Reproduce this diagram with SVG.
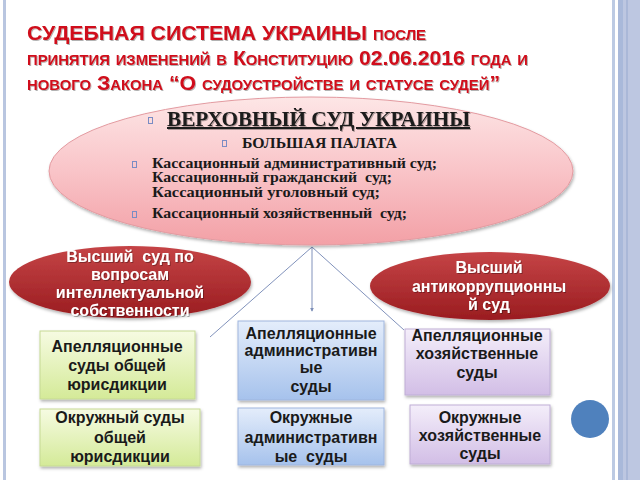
<svg xmlns="http://www.w3.org/2000/svg" width="640" height="480" viewBox="0 0 640 480">
<defs>
<linearGradient id="gPink" x1="0" y1="0" x2="0" y2="1">
<stop offset="0" stop-color="#fde6e6"/><stop offset="0.5" stop-color="#f9c4c8"/><stop offset="1" stop-color="#f3a0a6"/>
</linearGradient>
<linearGradient id="gRed" x1="0" y1="0" x2="0" y2="1">
<stop offset="0" stop-color="#c54446"/><stop offset="1" stop-color="#9a1c20"/>
</linearGradient>
<linearGradient id="gGreen" x1="0" y1="0" x2="0" y2="1">
<stop offset="0" stop-color="#f6fbe2"/><stop offset="1" stop-color="#d4ea98"/>
</linearGradient>
<linearGradient id="gBlue" x1="0" y1="0" x2="0" y2="1">
<stop offset="0" stop-color="#e4edfb"/><stop offset="1" stop-color="#a6c2ec"/>
</linearGradient>
<linearGradient id="gPurple" x1="0" y1="0" x2="0" y2="1">
<stop offset="0" stop-color="#f4eefa"/><stop offset="1" stop-color="#d2bee6"/>
</linearGradient>
<filter id="sh" x="-10%" y="-10%" width="120%" height="130%">
<feDropShadow dx="1" dy="2" stdDeviation="1.5" flood-color="#000" flood-opacity="0.3"/>
</filter>
<filter id="ts" x="-5%" y="-20%" width="110%" height="150%">
<feDropShadow dx="1" dy="1" stdDeviation="0.6" flood-color="#000" flood-opacity="0.3"/>
</filter>
<marker id="arr" viewBox="0 0 6 6" refX="5" refY="3" markerWidth="4" markerHeight="4" orient="auto">
<path d="M0,0 L6,3 L0,6 z" fill="#7d8fb8"/>
</marker>
</defs>
<style>
text{white-space:pre}
.title{font-family:"Liberation Sans",Arial,sans-serif;font-weight:bold;fill:#d0101a;font-variant:small-caps;font-size:20px}
.serif{font-family:"Liberation Serif","Times New Roman",serif;font-weight:bold;fill:#1a1a1a}
.wt{font-family:"Liberation Sans",Arial,sans-serif;font-weight:bold;fill:#fff;font-size:16px;text-anchor:middle}
.bt{font-family:"Liberation Sans",Arial,sans-serif;font-weight:bold;fill:#1a1a1a;font-size:16px;text-anchor:middle}
.bul{fill:none;stroke:#7a8cc4;stroke-width:1}
.conn{stroke:#8192bb;stroke-width:1;fill:none}
</style>
<rect x="0" y="0" width="640" height="480" fill="#fff"/>
<g id="frame">
<rect x="3" y="0" width="3" height="480" fill="#b9c6e0"/>
<rect x="612" y="0" width="3" height="480" fill="#bccae3"/>
<rect x="618" y="0" width="5" height="480" fill="#a9b9da"/>
<rect x="623" y="0" width="17" height="480" fill="#bdc7e1"/>
<rect x="626" y="0" width="2" height="480" fill="#aab8d8"/>
</g>
<g id="title" filter="url(#ts)">
<text class="title" x="27" y="40" textLength="399" lengthAdjust="spacingAndGlyphs">СУДЕБНАЯ СИСТЕМА УКРАИНЫ после</text>
<text class="title" x="27" y="65" textLength="501" lengthAdjust="spacingAndGlyphs">принятия изменений в Конституцию 02.06.2016 года и</text>
<text class="title" x="27" y="90" textLength="473" lengthAdjust="spacingAndGlyphs">нового Закона “О судоустройстве и статусе судей”</text>
</g>
<g id="connectors">
<line class="conn" x1="312" y1="247" x2="210" y2="337"/>
<line class="conn" x1="312" y1="247" x2="312" y2="311" marker-end="url(#arr)"/>
<line class="conn" x1="312" y1="247" x2="404" y2="330"/>
</g>
<g id="supreme">
<ellipse cx="311" cy="171" rx="262" ry="74" fill="url(#gPink)" stroke="#e39aa0" stroke-width="1" filter="url(#sh)"/>
<rect class="bul" x="148.5" y="117.5" width="4" height="6"/>
<text class="serif" x="167" y="126" font-size="20" text-decoration="underline" textLength="303" lengthAdjust="spacingAndGlyphs" filter="url(#ts)">ВЕРХОВНЫЙ СУД УКРАИНЫ</text>
<rect class="bul" x="222.5" y="140.5" width="4" height="6"/>
<text class="serif" x="242" y="148" font-size="15" textLength="155" lengthAdjust="spacingAndGlyphs">БОЛЬШАЯ ПАЛАТА</text>
<rect class="bul" x="132.5" y="161.5" width="4" height="6"/>
<text class="serif" x="152" y="168" font-size="14" textLength="285" lengthAdjust="spacingAndGlyphs">Кассационный административный суд;</text>
<text class="serif" x="152" y="182" font-size="14" textLength="240" lengthAdjust="spacingAndGlyphs">Кассационный гражданский  суд;</text>
<text class="serif" x="152" y="196.5" font-size="14" textLength="228" lengthAdjust="spacingAndGlyphs">Кассационный уголовный суд;</text>
<rect class="bul" x="132.5" y="211.5" width="4" height="6"/>
<text class="serif" x="152" y="218" font-size="14" textLength="255" lengthAdjust="spacingAndGlyphs">Кассационный хозяйственный  суд;</text>
</g>
<g id="ip-court">
<ellipse cx="130" cy="282" rx="121" ry="36" fill="url(#gRed)" filter="url(#sh)"/>
<g filter="url(#ts)">
<text class="wt" x="130" y="262">Высший  суд по</text>
<text class="wt" x="130" y="280">вопросам</text>
<text class="wt" x="130" y="298">интеллектуальной</text>
<text class="wt" x="130" y="316">собственности</text>
</g>
</g>
<g id="anticorruption-court">
<ellipse cx="490" cy="286" rx="120" ry="34" fill="url(#gRed)" filter="url(#sh)"/>
<g filter="url(#ts)">
<text class="wt" x="489" y="273">Высший</text>
<text class="wt" x="489" y="292">антикоррупционны</text>
<text class="wt" x="489" y="310">й суд</text>
</g>
</g>
<g id="appeal-general">
<rect x="40" y="331" width="155" height="68" fill="url(#gGreen)" stroke="#c6da94" filter="url(#sh)"/>
<text class="bt" x="117" y="352">Апелляционные</text>
<text class="bt" x="117" y="371">суды общей</text>
<text class="bt" x="117" y="390">юрисдикции</text>
</g>
<g id="district-general">
<rect x="40" y="409" width="160" height="57" fill="url(#gGreen)" stroke="#c6da94" filter="url(#sh)"/>
<text class="bt" x="120" y="423">Окружный суды</text>
<text class="bt" x="120" y="443">общей</text>
<text class="bt" x="120" y="462">юрисдикции</text>
</g>
<g id="appeal-admin">
<rect x="238" y="321" width="146" height="79" fill="url(#gBlue)" stroke="#9fb6de" filter="url(#sh)"/>
<text class="bt" x="311" y="339">Апелляционные</text>
<text class="bt" x="311" y="356">административн</text>
<text class="bt" x="311" y="373">ые</text>
<text class="bt" x="311" y="392">суды</text>
</g>
<g id="district-admin">
<rect x="238" y="408" width="146" height="57" fill="url(#gBlue)" stroke="#9fb6de" filter="url(#sh)"/>
<text class="bt" x="311" y="423">Окружные</text>
<text class="bt" x="311" y="443">административн</text>
<text class="bt" x="311" y="462">ые  суды</text>
</g>
<g id="appeal-commercial">
<rect x="405" y="329" width="145" height="66" fill="url(#gPurple)" stroke="#bfaed6" filter="url(#sh)"/>
<text class="bt" x="477" y="341">Апелляционные</text>
<text class="bt" x="477" y="359">хозяйственные</text>
<text class="bt" x="477" y="378">суды</text>
</g>
<g id="district-commercial">
<rect x="410" y="405" width="140" height="59" fill="url(#gPurple)" stroke="#bfaed6" filter="url(#sh)"/>
<text class="bt" x="480" y="423">Окружные</text>
<text class="bt" x="480" y="441">хозяйственные</text>
<text class="bt" x="480" y="459">суды</text>
</g>
<g id="dot">
<circle cx="590" cy="419" r="19" fill="#4f81bd"/>
</g>
</svg>
